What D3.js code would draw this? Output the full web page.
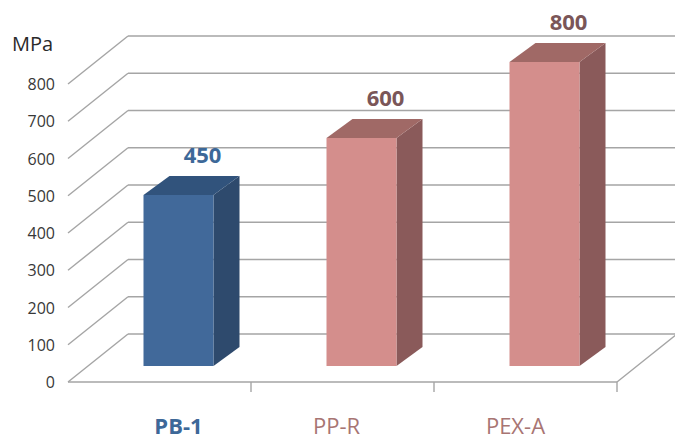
<!DOCTYPE html>
<html>
<head>
<meta charset="utf-8">
<script src="https://cdn.jsdelivr.net/npm/d3@7"></script>
<style>
  body { margin: 0; background: #fff; }
  text { font-family: "Open Sans", "Noto Sans", sans-serif; }
</style>
</head>
<body>
<div id="chart"></div>
<script>
// data
var categories = ["PB-1", "PP-R", "PEX-A"];
var values = [450, 600, 800];
var tickValues = [0, 100, 200, 300, 400, 500, 600, 700, 800];
var unitLabel = "MPa";

var svgWidth = 675;
var svgHeight = 441;

// oblique depth of the chart box and of each bar
var depth = { dx: 60, dy: -48 };
var barDepth = { dx: 26, dy: -19 };
var barShift = { dx: 19, dy: -16 };
var barWidth = 70;

var blue = { front: "#41699a", top: "#31537c", side: "#2e4a6d", text: "#3d6898" };
var pink = { front: "#d48e8c", top: "#a06966", side: "#8a5a5a", text: "#7a5658", cat: "#a87573" };

var svg = d3.select("#chart")
  .append("svg")
  .attr("width", svgWidth)
  .attr("height", svgHeight);

var x = d3.scaleBand().domain(categories).range([68, 617]);
var y = d3.scaleLinear().domain([0, 800]).range([382, 84]);
var yBar = d3.scaleLinear().domain([0, 800]).range([366, 62]);

var grid = svg.append("g")
  .attr("stroke", "#a5a5a5")
  .attr("stroke-width", 1.4)
  .attr("fill", "none");

var x0 = x.range()[0], x1 = x.range()[1];

// back wall gridlines + left side diagonals
tickValues.forEach(function(v) {
  grid.append("line")
    .attr("x1", x0 + depth.dx).attr("y1", y(v) + depth.dy)
    .attr("x2", x1 + depth.dx + 10).attr("y2", y(v) + depth.dy);
  grid.append("line")
    .attr("x1", x0).attr("y1", y(v))
    .attr("x2", x0 + depth.dx).attr("y2", y(v) + depth.dy);
});

// floor front edge and right side
grid.append("line")
  .attr("x1", x0).attr("y1", y(0))
  .attr("x2", x1).attr("y2", y(0));
grid.append("line")
  .attr("x1", x1).attr("y1", y(0))
  .attr("x2", x1 + depth.dx).attr("y2", y(0) + depth.dy);

// category tick marks
categories.forEach(function(c) {
  var xe = x(c) + x.bandwidth();
  grid.append("line")
    .attr("x1", xe).attr("y1", y(0))
    .attr("x2", xe).attr("y2", y(0) + 10);
});

// y tick labels
svg.append("g").selectAll("text")
  .data(tickValues)
  .enter()
  .append("text")
  .attr("x", 55)
  .attr("y", function(d) { return y(d) + 6; })
  .attr("text-anchor", "end")
  .attr("fill", "#383838")
  .style("font-size", "16px")
  .text(function(d) { return d; });

svg.append("text")
  .attr("x", 12)
  .attr("y", 51)
  .attr("fill", "#2a2a2a")
  .style("font-size", "20px")
  .text(unitLabel);

// bars
var bars = svg.append("g").selectAll("g")
  .data(values)
  .enter()
  .append("g");

function barLeft(i) {
  return x(categories[i]) + x.bandwidth() / 2 + barShift.dx - barWidth / 2;
}
function colorOf(i) { return i === 0 ? blue : pink; }

// side face
bars.append("path")
  .attr("fill", function(d, i) { return colorOf(i).side; })
  .attr("d", function(d, i) {
    var l = barLeft(i) + barWidth, b = yBar(0), t = yBar(d);
    return "M" + l + "," + b +
      "L" + (l + barDepth.dx) + "," + (b + barDepth.dy) +
      "L" + (l + barDepth.dx) + "," + (t + barDepth.dy) +
      "L" + l + "," + t + "Z";
  });

// top face
bars.append("path")
  .attr("fill", function(d, i) { return colorOf(i).top; })
  .attr("d", function(d, i) {
    var l = barLeft(i), r = l + barWidth, t = yBar(d);
    return "M" + l + "," + t +
      "L" + r + "," + t +
      "L" + (r + barDepth.dx) + "," + (t + barDepth.dy) +
      "L" + (l + barDepth.dx) + "," + (t + barDepth.dy) + "Z";
  });

// front face
bars.append("rect")
  .attr("x", function(d, i) { return barLeft(i); })
  .attr("y", function(d) { return yBar(d); })
  .attr("width", barWidth)
  .attr("height", function(d) { return yBar(0) - yBar(d); })
  .attr("fill", function(d, i) { return colorOf(i).front; });

// value labels
bars.append("text")
  .attr("x", function(d, i) { return barLeft(i) + barWidth / 2 + 24; })
  .attr("y", function(d) { return yBar(d) + barDepth.dy - 13; })
  .attr("text-anchor", "middle")
  .attr("fill", function(d, i) { return colorOf(i).text; })
  .style("font-size", "22px")
  .style("font-weight", "bold")
  .text(function(d) { return d; });

// category labels
var labelNudge = [19, -6, -10];
svg.append("g").selectAll("text")
  .data(categories)
  .enter()
  .append("text")
  .attr("x", function(d, i) { return x(d) + x.bandwidth() / 2 + labelNudge[i]; })
  .attr("y", 434)
  .attr("text-anchor", "middle")
  .attr("fill", function(d, i) { return i === 0 ? blue.text : pink.cat; })
  .style("font-size", "22px")
  .style("font-weight", function(d, i) { return i === 0 ? "bold" : "normal"; })
  .text(function(d) { return d; });
</script>
</body>
</html>
